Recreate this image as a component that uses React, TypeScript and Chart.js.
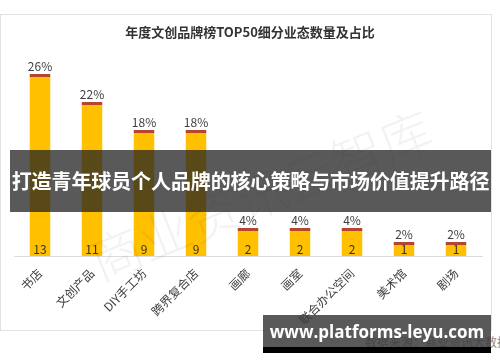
import React, { useEffect, useRef } from "react";
import { Chart, registerables } from "chart.js";

Chart.register(...registerables);

const title = "年度文创品牌榜TOP50细分业态数量及占比";
const categories = ["书店", "文创产品", "DIY手工坊", "跨界复合店", "画廊", "画室", "联合办公空间", "美术馆", "剧场"];
const counts = [13, 11, 9, 9, 2, 2, 2, 1, 1];
const percents = [26, 22, 18, 18, 4, 4, 4, 2, 2];
const bannerText = "打造青年球员个人品牌的核心策略与市场价值提升路径";
const siteText = "www.platforms-leyu.com";
const watermarkText = "商业资讯云智库";
const sourceText = "数据来源：商业资讯大数据中心";

const FONT = "'Noto Sans CJK SC', 'Noto Sans', sans-serif";
const YELLOW = "#FFC000";
const RED = "#B5452E";

const labelPlugin = {
  id: "barLabels",
  afterDatasetsDraw(chart: any) {
    const ctx = chart.ctx;
    const meta = chart.getDatasetMeta(0);
    ctx.save();
    ctx.textAlign = "center";
    meta.data.forEach((bar: any, i: number) => {
      ctx.font = `12px ${FONT}`;
      ctx.fillStyle = "#404040";
      ctx.textBaseline = "bottom";
      ctx.fillText(`${percents[i]}%`, bar.x, bar.y - 2);
      ctx.fillStyle = "#333333";
      ctx.textBaseline = "middle";
      ctx.fillText(String(counts[i]), bar.x, bar.base - 7);
    });
    ctx.font = `bold 13px ${FONT}`;
    ctx.fillStyle = "#333333";
    ctx.textBaseline = "middle";
    ctx.fillText(title, 250, 18);
    ctx.restore();
  },
};

export default function App() {
  const ref = useRef<HTMLCanvasElement | null>(null);
  useEffect(() => {
    if (!ref.current) return;
    const chart = new Chart(ref.current, {
      type: "bar",
      data: {
        labels: categories,
        datasets: [
          {
            data: counts,
            backgroundColor: YELLOW,
            borderColor: RED,
            borderWidth: { top: 3, left: 0, right: 0, bottom: 0 },
            borderSkipped: false,
            categoryPercentage: 1,
            barPercentage: 0.404,
          },
        ],
      },
      options: {
        animation: false,
        responsive: false,
        layout: { padding: { top: 32, left: 14, right: 10, bottom: 0 } },
        plugins: { legend: { display: false }, tooltip: { enabled: false }, title: { display: false } },
        scales: {
          x: {
            grid: { display: false, drawTicks: false },
            border: { display: true, color: "#dcdcdc" },
            ticks: {
              minRotation: 45,
              maxRotation: 45,
              padding: 10,
              color: "#404040",
              font: { size: 12, family: FONT },
            },
            afterFit: (s: any) => {
              s.height = 74;
            },
          },
          y: { display: false, min: 0, max: 15 },
        },
      },
      plugins: [labelPlugin],
    });
    return () => chart.destroy();
  }, []);

  return (
    <div style={{ position: "fixed", left: 0, top: 0, width: 500, height: 362, background: "#fff", overflow: "hidden", fontFamily: FONT }}>
      <div style={{ position: "absolute", left: 0, top: 14, width: 492, height: 317, border: "1px solid #e2e2e2", boxSizing: "border-box" }} />
      <div style={{ position: "absolute", left: 365, top: 333, fontSize: 12, color: "#888", whiteSpace: "nowrap" }}>{sourceText}</div>
      <canvas ref={ref} width={492} height={316} style={{ position: "absolute", left: 0, top: 14, width: 492, height: 316 }} />
      <div style={{ position: "absolute", left: 70, top: 155, width: 380, textAlign: "center", fontSize: 52, color: "rgba(0,0,0,0.05)", transform: "rotate(-22deg)", whiteSpace: "nowrap", fontFamily: "'Noto Sans CJK SC', serif", fontWeight: 300 }}>{watermarkText}</div>
      <div style={{ position: "absolute", left: 10, top: 150, width: 481, height: 62, background: "rgba(34,34,34,0.75)", color: "#fff", fontWeight: "bold", fontSize: 20, lineHeight: "62px", textAlign: "center", whiteSpace: "nowrap", letterSpacing: -0.1 }}>{bannerText}</div>
      <div style={{ position: "absolute", left: 263, top: 315, width: 228, height: 32, background: "rgba(60,60,60,0.85)", color: "#fff", fontWeight: "bold", fontSize: 17, lineHeight: "33px", textAlign: "center", whiteSpace: "nowrap", fontFamily: "'Open Sans', sans-serif" }}>{siteText}</div>
      <div style={{ position: "absolute", left: 263, top: 347, width: 228, height: 6, background: "#000" }} />
    </div>
  );
}
